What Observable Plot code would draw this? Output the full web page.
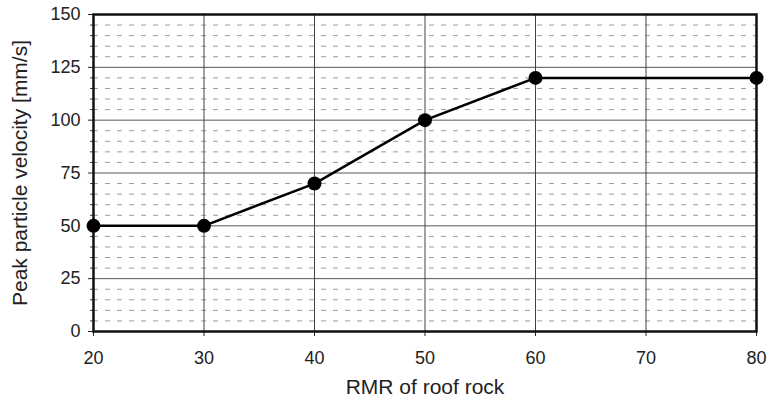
<!DOCTYPE html>
<html>
<head>
<meta charset="utf-8">
<script src="https://cdn.jsdelivr.net/npm/d3@7"></script>
<script src="https://cdn.jsdelivr.net/npm/@observablehq/plot@0.6"></script>
<style>
  html, body { margin: 0; padding: 0; background: #fff; }
  #chart svg { display: block; }
</style>
</head>
<body>
<div id="chart"></div>
<script>
const rmr = [20, 30, 40, 50, 60, 80];
const ppv = [50, 50, 70, 100, 120, 120];
const xTicks = [20, 30, 40, 50, 60, 70, 80];
const yTicks = [0, 25, 50, 75, 100, 125, 150];
const yMinor = [5, 10, 15, 20, 30, 35, 40, 45, 55, 60, 65, 70, 80, 85, 90, 95, 105, 110, 115, 120, 130, 135, 140, 145];
const xTitle = "RMR of roof rock";
const yTitle = "Peak particle velocity [mm/s]";

const data = rmr.map((x, i) => ({x, y: ppv[i]}));

const chart = Plot.plot({
  width: 769,
  height: 409,
  marginLeft: 93,
  marginRight: 13,
  marginTop: 14,
  marginBottom: 78,
  style: {fontFamily: "'Liberation Sans', Arial, sans-serif", fontSize: "18px", color: "#222"},
  x: {domain: [20, 80], ticks: xTicks, label: null},
  y: {domain: [0, 150], ticks: yTicks, label: null},
  marks: [
    Plot.ruleY(yMinor, {stroke: "#9a9a9a", strokeWidth: 1, strokeDasharray: "5,7"}),
    Plot.gridY(yTicks, {stroke: "#555", strokeOpacity: 1, strokeWidth: 1}),
    Plot.gridX(xTicks, {stroke: "#444", strokeOpacity: 1, strokeWidth: 1}),
    Plot.axisY(yMinor, {tickSize: 3, text: null, stroke: "#333"}),
    Plot.axisY(yTicks, {tickSize: 5, tickPadding: 8, fontSize: 18, stroke: "#222"}),
    Plot.axisX(xTicks, {tickSize: 5, tickPadding: 15, fontSize: 18, stroke: "#222"}),
    Plot.frame({stroke: "#111", strokeWidth: 2.5}),
    Plot.line(data, {x: "x", y: "y", stroke: "#000", strokeWidth: 2.5}),
    Plot.dot(data, {x: "x", y: "y", r: 7, fill: "#000", stroke: "none"}),
    Plot.text([xTitle], {frameAnchor: "bottom", dy: 62, fontSize: 21, fill: "#222"}),
    Plot.text([yTitle], {frameAnchor: "left", textAnchor: "middle", dx: -73, rotate: -90, fontSize: 21, fill: "#222"})
  ]
});
document.getElementById("chart").appendChild(chart);
</script>
</body>
</html>
